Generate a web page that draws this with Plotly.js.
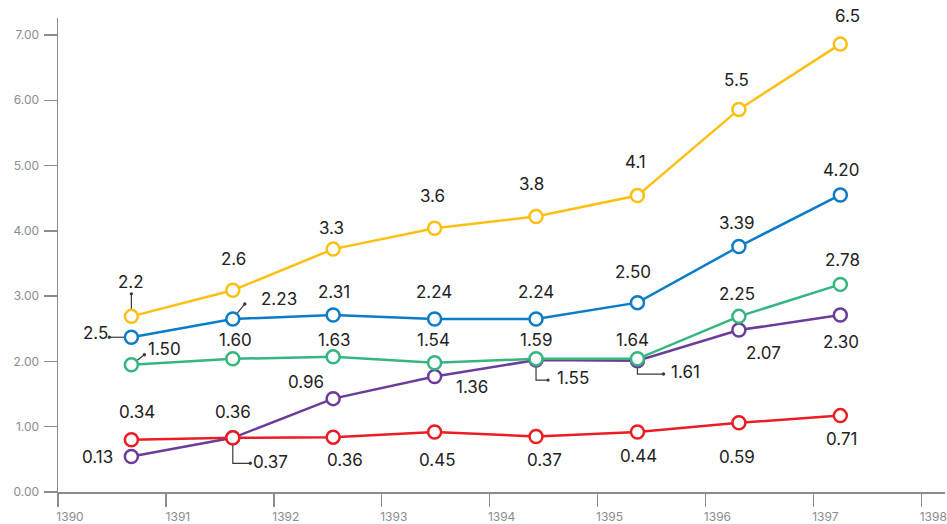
<!DOCTYPE html>
<html>
<head>
<meta charset="utf-8">
<script src="https://cdn.plot.ly/plotly-3.0.1.min.js"></script>
<style>html,body{margin:0;padding:0;background:#fff;}#chart{width:947px;height:524px;}</style>
</head>
<body>
<div id="chart"></div>
<script>
// ---- data ----
const years = [1390.68, 1391.62, 1392.55, 1393.49, 1394.43, 1395.37, 1396.31, 1397.25];
const yellowVals = [2.69, 3.09, 3.72, 4.04, 4.22, 4.54, 5.86, 6.86];
const yellowLabels = ['2.2', '2.6', '3.3', '3.6', '3.8', '4.1', '5.5', '6.5'];
const blueVals = [2.37, 2.65, 2.71, 2.65, 2.65, 2.90, 3.76, 4.55];
const blueLabels = ['2.5', '2.23', '2.31', '2.24', '2.24', '2.50', '3.39', '4.20'];
const greenVals = [1.95, 2.04, 2.07, 1.98, 2.04, 2.04, 2.69, 3.18];
const greenLabels = ['1.50', '1.60', '1.63', '1.54', '1.59', '1.64', '2.25', '2.78'];
const purpleVals = [0.545, 0.83, 1.43, 1.77, 2.02, 2.01, 2.48, 2.71];
const purpleLabels = ['0.13', '0.37', '0.96', '1.36', '1.55', '1.61', '2.07', '2.30'];
const redVals = [0.80, 0.83, 0.84, 0.92, 0.85, 0.92, 1.06, 1.17];
const redLabels = ['0.34', '0.36', '0.36', '0.45', '0.37', '0.44', '0.59', '0.71'];

// ---- label placement (screen px offsets, y down) ----
const yellowOff = [[0,-34],[1,-31],[-2,-21],[-2,-32],[-5,-32],[-2,-34],[-2,-29],[7,-28]];
const blueOff   = [[-36,-4],[46,-20],[1,-23],[-1,-27],[0,-27],[-4,-31],[-2,-24],[1,-25]];
const greenOff  = [[33,-16],[3,-19],[1,-17],[-1,-23],[0,-19],[-5,-19],[-2,-22],[2,-24]];
const purpleOff = [[-34,1],[38,24],[-27,-17],[37,11],[37,18],[48,11],[25,23],[1,27]];
const redOff    = [[6,-28],[0,-26],[12,23],[3,28],[8,23],[1,24],[-2,34],[2,23]];

const series = [
  {name:'purple', vals: purpleVals, labels: purpleLabels, off: purpleOff, color:'#6A3D9A'},
  {name:'red', vals: redVals, labels: redLabels, off: redOff, color:'#EC1C24'},
  {name:'green', vals: greenVals, labels: greenLabels, off: greenOff, color:'#35B67F'},
  {name:'blue', vals: blueVals, labels: blueLabels, off: blueOff, color:'#0B7CC6'},
  {name:'yellow', vals: yellowVals, labels: yellowLabels, off: yellowOff, color:'#FDC012'}
];

// leader lines: [series vals, index, polyline in screen px from point (y down)]
const leaders = [
  [yellowVals, 0, [[0,0],[0,-22.5]]],
  [blueVals, 0, [[0,0],[-22,0]]],
  [blueVals, 1, [[0,0],[12,-15]]],
  [greenVals, 0, [[0,0],[13,-10]]],
  [purpleVals, 1, [[0,0],[0,25.5],[17.5,25.5]]],
  [purpleVals, 4, [[0,0],[0,20],[12,20]]],
  [purpleVals, 5, [[0,0],[0,13.3],[26,13.3]]]
];

const FONT = 'Inter, "Noto Sans", sans-serif';

const traces = series.map(s => ({
  type: 'scatter', mode: 'lines+markers', x: years, y: s.vals, name: s.name,
  line: {color: s.color, width: 2.5},
  marker: {symbol: 'circle', size: 13, color: '#ffffff', line: {color: s.color, width: 2.5}},
  hoverinfo: 'skip', showlegend: false, cliponaxis: false
}));

const annotations = [];
series.forEach(s => {
  s.labels.forEach((t, i) => {
    annotations.push({
      xref: 'x', yref: 'y', x: years[i], y: s.vals[i], text: t, showarrow: false,
      xshift: s.off[i][0], yshift: -s.off[i][1],
      font: {family: FONT, size: 17, color: '#222222'}
    });
  });
});

const shapes = [];
leaders.forEach(([vals, i, pts]) => {
  const path = pts.map((p, k) => (k === 0 ? 'M' : 'L') + p[0] + ',' + (-p[1])).join(' ');
  shapes.push({
    type: 'path', xref: 'x', yref: 'y', xsizemode: 'pixel', ysizemode: 'pixel',
    xanchor: years[i], yanchor: vals[i], path: path, layer: 'below',
    line: {color: '#3a3a3a', width: 1.2}
  });
  const e = pts[pts.length - 1];
  shapes.push({
    type: 'circle', xref: 'x', yref: 'y', xsizemode: 'pixel', ysizemode: 'pixel',
    xanchor: years[i], yanchor: vals[i],
    x0: e[0] - 1.7, x1: e[0] + 1.7, y0: -e[1] - 1.7, y1: -e[1] + 1.7,
    fillcolor: '#3a3a3a', line: {width: 0}, layer: 'below'
  });
});

const axisCommon = {
  showline: true, linecolor: '#8c8c8c', linewidth: 1.5,
  ticks: 'outside', ticklen: 13, tickwidth: 1.5, tickcolor: '#8c8c8c',
  showgrid: false, zeroline: false, dtick: 1,
  tickfont: {family: FONT, size: 12, color: '#8c8c8c'}
};

const layout = {
  width: 947, height: 524,
  margin: {l: 58, r: 2, t: 18, b: 32, pad: 0},
  paper_bgcolor: '#ffffff', plot_bgcolor: '#ffffff',
  xaxis: Object.assign({}, axisCommon, {range: [1390, 1398.22], tick0: 1390, tickformat: 'd', ticklabelshift: 12, ticklabelstandoff: 0}),
  yaxis: Object.assign({}, axisCommon, {range: [0, 7.26], tick0: 0, tickformat: '.2f', ticklabelstandoff: 2}),
  annotations: annotations,
  shapes: shapes,
  showlegend: false
};

Plotly.newPlot('chart', traces, layout, {displayModeBar: false, staticPlot: true});
</script>
</body>
</html>
